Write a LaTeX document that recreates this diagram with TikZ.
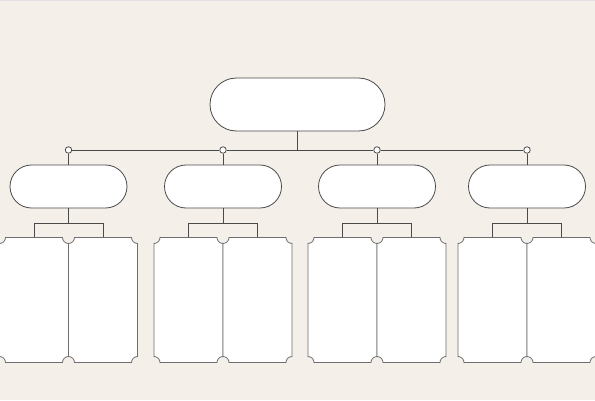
\documentclass[tikz,border=0pt]{standalone}
\usetikzlibrary{shapes.misc,calc}
\definecolor{bg}{HTML}{F4EFE9}
\definecolor{ln}{HTML}{4A4A4A}
\definecolor{cd}{HTML}{6E6E6E}
\definecolor{topstrip}{HTML}{E4E1E5}
\tikzset{
 pill/.style={rounded rectangle, draw=ln, fill=white, line width=0.8pt, inner sep=0},
 dot/.style={circle, draw=ln, fill=white, minimum size=6.5pt, inner sep=0, line width=0.8pt},
 conn/.style={draw=ln, line width=0.8pt},
 cardbox/.style={draw=cd, fill=white, line width=0.8pt},
 slot/.style={rectangle, minimum width=69pt, minimum height=125pt, inner sep=0, draw=none},
}
\newcommand\mycard[2]{%
 \node[slot] (#1) at (#2,100) {};
 \path[cardbox] (#2-28.5,162.5) -- (#2+28.5,162.5) arc[start angle=180,end angle=270,radius=6pt]
   -- (#2+34.5,43.5) arc[start angle=90,end angle=180,radius=6pt]
   -- (#2-28.5,37.5) arc[start angle=0,end angle=90,radius=6pt]
   -- (#2-34.5,156.5) arc[start angle=270,end angle=360,radius=6pt] -- cycle;
}
\begin{document}
\begin{tikzpicture}[x=1pt,y=1pt]
\fill[bg] (0,0) rectangle (595,400);
\fill[topstrip] (0,398.8) rectangle (595,400);
\useasboundingbox (0,0) rectangle (595,400);
% top node
\node[pill, minimum width=175pt, minimum height=53pt] (top) at (297.5,295.5) {};
% second level
\node[pill, minimum width=117pt, minimum height=43pt] (p1) at (68.5,213.5) {};
\node[pill, minimum width=117pt, minimum height=43pt] (p2) at (223,213.5) {};
\node[pill, minimum width=117pt, minimum height=43pt] (p3) at (377,213.5) {};
\node[pill, minimum width=117pt, minimum height=43pt] (p4) at (527,213.5) {};
% bus dots
\node[dot] (d1) at (68.5,250) {};
\node[dot] (d2) at (223,250) {};
\node[dot] (d3) at (377,250) {};
\node[dot] (d4) at (527,250) {};
\coordinate (tb) at (297.5,250);
\draw[conn] (d1) -- (d2);
\draw[conn] (d2) -- (d3);
\draw[conn] (d3) -- (d4);
\draw[conn] (top.south) -- (tb);
\draw[conn] (d1) -- (p1.north);
\draw[conn] (d2) -- (p2.north);
\draw[conn] (d3) -- (p3.north);
\draw[conn] (d4) -- (p4.north);
% cards
\mycard{c1a}{34}\mycard{c1b}{103}
\mycard{c2a}{188.5}\mycard{c2b}{257.5}
\mycard{c3a}{342.5}\mycard{c3b}{411.5}
\mycard{c4a}{492.5}\mycard{c4b}{561.5}
% brackets
\coordinate (b1) at (68.5,176.5);
\coordinate (b2) at (223,176.5);
\coordinate (b3) at (377,176.5);
\coordinate (b4) at (527,176.5);
\draw[conn] (p1.south) -- (b1);
\draw[conn] (p2.south) -- (b2);
\draw[conn] (p3.south) -- (b3);
\draw[conn] (p4.south) -- (b4);
\draw[conn] (c1a.north) |- (b1) -| (c1b.north);
\draw[conn] (c2a.north) |- (b2) -| (c2b.north);
\draw[conn] (c3a.north) |- (b3) -| (c3b.north);
\draw[conn] (c4a.north) |- (b4) -| (c4b.north);
\end{tikzpicture}
\end{document}
